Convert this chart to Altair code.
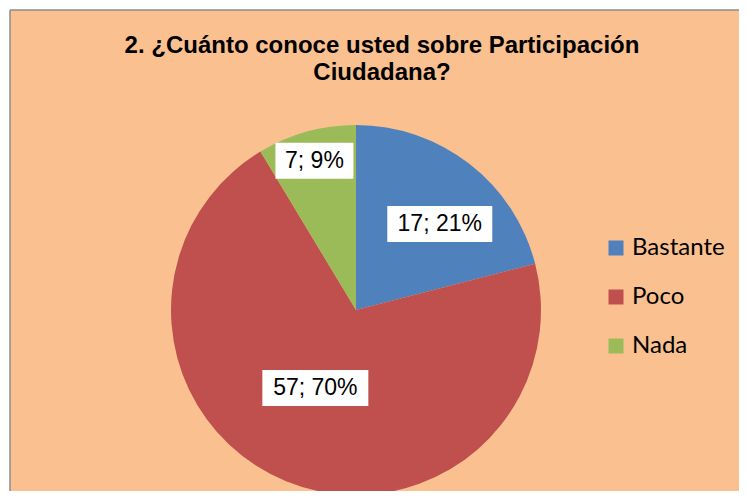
import altair as alt
import pandas as pd

# ---- data ----
CATEGORIES = ["Bastante", "Poco", "Nada"]
VALUES = [17, 57, 7]
COLORS = ["#4F81BD", "#C0504D", "#9BBB59"]
TITLE_LINES = ["2. ¿Cuánto conoce usted sobre Participación", "Ciudadana?"]

# ---- layout constants (pixels / degrees) ----
W, H = 729, 481
CX, CY, R = 346, 300, 185
LABEL_RADIUS = [120, 88, 155]
LABEL_SHIFT_DEG = [6.5, 5.3, 0]
BOX_W = [105, 106, 78]
BOX_H = 36

df = pd.DataFrame({
    "category": CATEGORIES,
    "value": VALUES,
    "idx": list(range(len(CATEGORIES))),
    "lr": LABEL_RADIUS,
    "shift": LABEL_SHIFT_DEG,
    "bw": BOX_W,
})

base = alt.Chart(df)

arc = base.mark_arc(radius=R, strokeWidth=0).encode(
    theta=alt.Theta("value:Q", stack=True),
    order=alt.Order("idx:Q"),
    color=alt.Color(
        "category:N",
        sort=CATEGORIES,
        scale=alt.Scale(domain=CATEGORIES, range=COLORS),
        legend=alt.Legend(
            title=None, orient="none", legendX=594, legendY=226,
            symbolType="square", symbolSize=225, symbolStrokeWidth=0,
            labelFont="Lato", labelFontSize=24, labelColor="black",
            labelOffset=4, rowPadding=25,
        ),
    ),
    x=alt.value(CX),
    y=alt.value(CY),
)

lab = base.transform_joinaggregate(total="sum(value)").transform_window(
    cum="sum(value)", sort=[alt.SortField("idx")], frame=[None, 0]
).transform_calculate(
    mid="2*PI*(datum.cum - datum.value/2)/datum.total + datum.shift*PI/180",
).transform_calculate(
    lx=f"{CX} + datum.lr*sin(datum.mid)",
    ly=f"{CY} - datum.lr*cos(datum.mid)",
    label="datum.value + '; ' + format(datum.value/datum.total, '.0%')",
).transform_calculate(
    bx1="datum.lx - datum.bw/2",
    bx2="datum.lx + datum.bw/2",
    by1=f"datum.ly - {BOX_H/2}",
    by2=f"datum.ly + {BOX_H/2}",
)

boxes = lab.mark_rect(fill="white").encode(
    x=alt.X("bx1:Q", scale=None, axis=None),
    x2="bx2:Q",
    y=alt.Y("by1:Q", scale=None, axis=None),
    y2="by2:Q",
)

labels = lab.mark_text(font="Liberation Sans", fontSize=23, color="black").encode(
    x=alt.X("lx:Q", scale=None, axis=None),
    y=alt.Y("ly:Q", scale=None, axis=None),
    text="label:N",
)

one = alt.Data(values=[{}])
title = alt.Chart(one).mark_text(
    text=TITLE_LINES, font="Liberation Sans", fontWeight="bold", fontSize=24,
    lineHeight=27, baseline="alphabetic", align="center", color="black",
).encode(x=alt.value(372), y=alt.value(43))

left_border = alt.Chart(one).mark_rule(color="#8c8c8c", strokeWidth=1.5).encode(
    x=alt.value(0), y=alt.value(0), y2=alt.value(H)
)
top_border = alt.Chart(one).mark_rule(color="#8c8c8c", strokeWidth=1.5).encode(
    x=alt.value(0), x2=alt.value(W), y=alt.value(0)
)

chart = alt.layer(arc, boxes, labels, title, left_border, top_border).properties(
    width=W, height=H,
    padding={"left": 2, "top": 2, "right": 0, "bottom": 0},
    background="white",
    autosize=alt.AutoSizeParams(type="none"),
).configure_view(fill="#FAC090", stroke=None)

chart.save("out.html", embed_options={"renderer": "svg", "actions": False})
